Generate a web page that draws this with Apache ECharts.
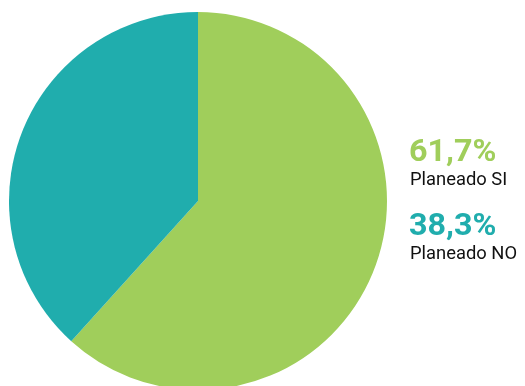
<!DOCTYPE html>
<html>
<head>
<meta charset="utf-8">
<script src="https://cdn.jsdelivr.net/npm/echarts@6/dist/echarts.min.js"></script>
<style>
  html, body { margin: 0; padding: 0; background: #fff; }
  #chart { width: 525px; height: 386px; }
</style>
</head>
<body>
<div id="chart"></div>
<script>
const categories = ['Planeado SI', 'Planeado NO'];
const values = [61.7, 38.3];
const colors = ['#A0CE5B', '#20ADAD'];

const chart = echarts.init(document.getElementById('chart'));

// labels on the right, one block per slice
const labelTops = [136.5, 210.5];
const graphics = [];
categories.forEach((name, i) => {
  graphics.push({
    type: 'text',
    x: 409,
    y: labelTops[i],
    scaleX: 1.01,
    style: {
      text: values[i].toFixed(1).replace('.', ',') + '%',
      fill: colors[i],
      font: 'bold 32px Roboto',
      verticalAlign: 'top'
    }
  });
  graphics.push({
    type: 'text',
    x: 410,
    y: labelTops[i] + 35,
    scaleX: 1.05,
    style: {
      text: name,
      fill: '#111',
      font: '17.5px Roboto',
      verticalAlign: 'top'
    }
  });
});

chart.setOption({
  animation: false,
  graphic: graphics,
  series: [
    {
      type: 'pie',
      center: [198, 201],
      radius: 189,
      startAngle: 90,
      clockwise: true,
      silent: true,
      label: { show: false },
      labelLine: { show: false },
      data: categories.map((name, i) => ({
        name: name,
        value: values[i],
        itemStyle: { color: colors[i] }
      }))
    }
  ]
});
</script>
</body>
</html>
